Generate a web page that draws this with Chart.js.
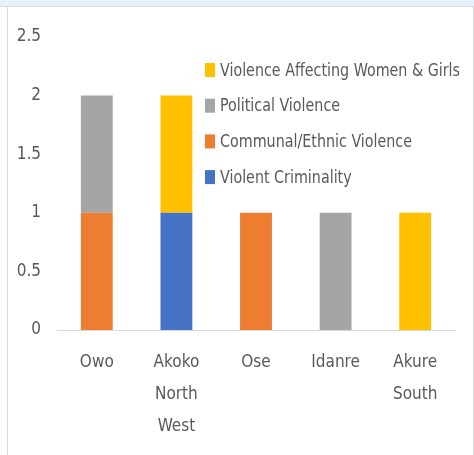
<!DOCTYPE html>
<html>
<head>
<meta charset="utf-8">
<script src="https://cdn.jsdelivr.net/npm/chart.js@4"></script>
<style>
  body { margin: 0; background: #fff; }
  .top { position: absolute; left: 0; top: 0; width: 474px; height: 6px; background: #e8f1fb; border-bottom: 1px solid #d6dde6; }
  .frame { position: absolute; left: 7px; top: 7px; width: 465px; height: 448px; border-left: 1px solid #d9d9d9; border-right: 1px solid #d9d9d9; }
  .wrap { position: absolute; left: 0; top: 0; width: 474px; height: 455px; }
</style>
</head>
<body>
<div class="top"></div>
<div class="frame"></div>
<div class="wrap"><canvas id="myChart" width="474" height="455"></canvas></div>
<script>
const categories = ["Owo", ["Akoko", "North", "West"], "Ose", "Idanre", ["Akure", "South"]];
const violentCriminality = [0, 1, 0, 0, 0];
const communalEthnic = [1, 0, 1, 0, 0];
const political = [1, 0, 0, 1, 0];
const womenGirls = [0, 1, 0, 0, 1];
const yTicks = [0, 0.5, 1, 1.5, 2, 2.5];

const font = "'DejaVu Sans Condensed', 'Liberation Sans', sans-serif";
const textColor = "#595959";

// legend drawn inside the plot area, last series on top
const insideLegend = {
  id: "insideLegend",
  afterDraw(chart) {
    const ctx = chart.ctx;
    const sets = chart.data.datasets.slice().reverse();
    ctx.save();
    ctx.font = "18px " + font;
    ctx.textBaseline = "middle";
    const widest = Math.max(...sets.map((ds) => ctx.measureText(ds.label).width));
    const sx = Math.min(1, 240 / widest);
    sets.forEach((ds, i) => {
      const y = 70 + i * 35.7;
      ctx.fillStyle = ds.backgroundColor;
      ctx.fillRect(205, y - 7, 10, 14);
      ctx.fillStyle = textColor;
      ctx.save();
      ctx.translate(220, y + 1);
      ctx.scale(sx, 1);
      ctx.fillText(ds.label, 0, 0);
      ctx.restore();
    });
    ctx.restore();
  },
};

const ctx = document.getElementById("myChart").getContext("2d");
new Chart(ctx, {
  type: "bar",
  data: {
    labels: categories,
    datasets: [
      { label: "Violent Criminality", data: violentCriminality, backgroundColor: "#4472C4" },
      { label: "Communal/Ethnic Violence", data: communalEthnic, backgroundColor: "#ED7D31" },
      { label: "Political Violence", data: political, backgroundColor: "#A5A5A5" },
      { label: "Violence Affecting Women & Girls", data: womenGirls, backgroundColor: "#FFC000" },
    ],
  },
  options: {
    responsive: false,
    animation: false,
    layout: { padding: { top: 37, right: 19, left: 0, bottom: 0 } },
    datasets: { bar: { categoryPercentage: 1, barPercentage: 0.4 } },
    plugins: { legend: { display: false }, tooltip: { enabled: false } },
    scales: {
      x: {
        stacked: true,
        grid: { display: false, drawTicks: false },
        border: { color: "#d9d9d9", width: 1 },
        ticks: { color: textColor, font: { family: font, size: 17, lineHeight: 1.9 }, padding: 16, maxRotation: 0, autoSkip: false },
        afterFit(scale) { scale.height = 125; },
      },
      y: {
        stacked: true,
        min: 0,
        max: 2.5,
        afterBuildTicks(scale) { scale.ticks = yTicks.map((v) => ({ value: v })); },
        grid: { display: false, drawTicks: false },
        border: { display: false },
        ticks: {
          color: textColor,
          font: { family: font, size: 17 },
          padding: 16,
          callback: (v) => String(v),
        },
        afterFit(scale) { scale.width = 57; },
      },
    },
  },
  plugins: [insideLegend],
});
</script>
</body>
</html>
